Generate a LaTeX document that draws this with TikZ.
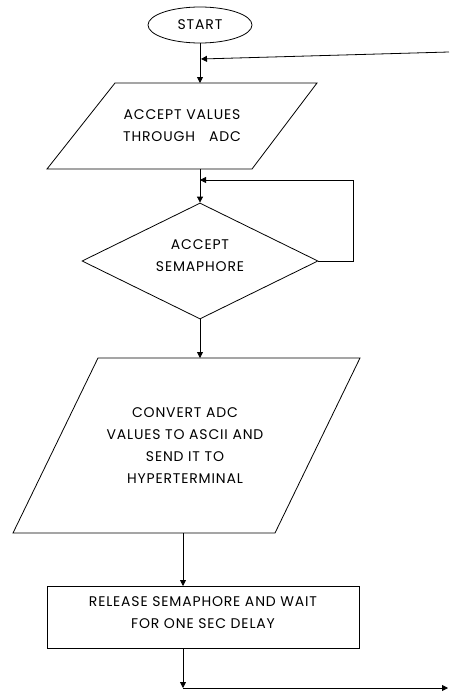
\documentclass[tikz,border=0pt]{standalone}
\usepackage{fontspec}
\setmainfont[LetterSpace=6]{Poppins}
\usetikzlibrary{arrows.meta,shapes.geometric}

\begin{document}
\begin{tikzpicture}[x=1pt,y=-1pt,
  line width=0.8pt,
  >={Triangle[length=6pt,width=6pt]},
  txt/.style={font=\fontsize{14}{22}\selectfont, align=center, inner sep=0pt},
  terminal/.style={ellipse, draw, minimum width=104pt, minimum height=36pt, inner sep=0pt, txt},
  decision/.style={diamond, draw, aspect=2, minimum width=236pt, minimum height=116pt, inner sep=0pt},
  process/.style={rectangle, draw, minimum width=312pt, minimum height=62pt, inner sep=0pt},
  flow/.style={->}]
\useasboundingbox (0,0) rectangle (450,696);

% terminal
\node[terminal] (start) at (200,25) {START};

% input: accept ADC values
\draw (115,83) -- (317,83) -- (252,169) -- (47,169) -- cycle;
\node[txt] (accept) at (182,126) {ACCEPT VALUES\\THROUGH\quad ADC};
\coordinate (acceptT) at (200,83);
\coordinate (acceptB) at (200,169);

% decision
\node[decision] (sem) at (200,261) {};
\node[txt] (semtext) at (200,256) {ACCEPT\\SEMAPHORE};
\coordinate (loopR) at (353,261);
\coordinate (loopTR) at (353,180);
\coordinate (loopIn) at (200,180);

% input/output: convert and send
\draw (98,358) -- (360,358) -- (275,533) -- (13,533) -- cycle;
\node[txt] (convert) at (185,446) {CONVERT ADC\\VALUES TO ASCII AND\\SEND IT TO\\HYPERTERMINAL};
\coordinate (convT) at (200,358);
\coordinate (convB) at (183,533);

% process
\node[process] (release) at (203,617) {};
\node[txt] (reltext) at (203,613) {RELEASE SEMAPHORE AND WAIT\\FOR ONE SEC DELAY};
\coordinate (relT) at (183,586);
\coordinate (relB) at (183,648);

% loop-back ends
\coordinate (endDown) at (183,688);
\coordinate (endRight) at (448,688);
\coordinate (backFrom) at (449,52);
\coordinate (backTo) at (201,59);

% connectors
\draw[flow] (start.south) -- (acceptT);
\draw[->] (backFrom) -- (backTo);
\draw[flow] (acceptB) -- (sem.north);
\draw[->] (sem.east) -- (loopR) -- (loopTR) -- (loopIn);
\draw[flow] (sem.south) -- (convT);
\draw[flow] (convB) -- (relT);
\draw[flow] (relB) -- (endDown);
\draw[flow] (endDown) -- (endRight);
\end{tikzpicture}
\end{document}
